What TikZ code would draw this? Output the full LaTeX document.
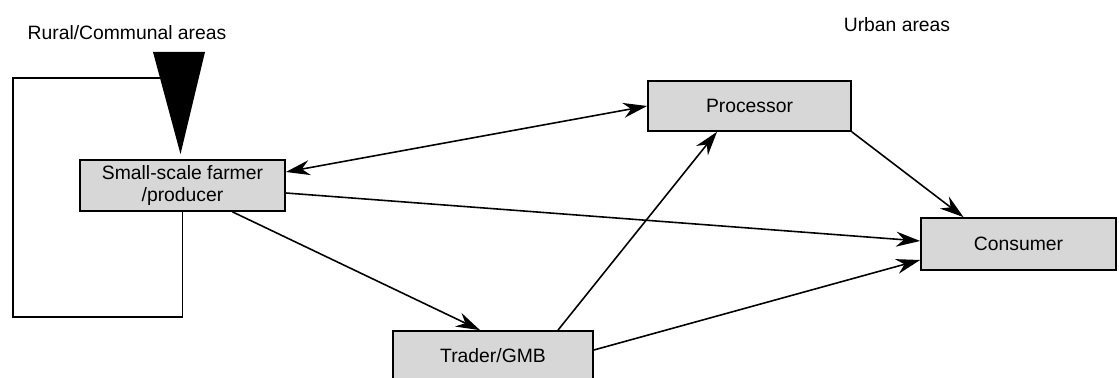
\documentclass[tikz,border=0pt]{standalone}
\usepackage{fontspec}
\setmainfont{Liberation Sans}
\usetikzlibrary{arrows.meta,positioning,calc}
\definecolor{boxgrey}{RGB}{215,215,215}

\begin{document}
\begin{tikzpicture}[x=0.02cm, y=-0.02cm,
  box/.style={draw, line width=1pt, fill=boxgrey, font=\fontsize{11}{12}\selectfont, align=center, inner sep=1pt},
  flow/.style={line width=0.9pt, -{Stealth[length=4.8mm,width=3mm]}},
  label/.style={font=\fontsize{11}{12}\selectfont}]

% Frame
\useasboundingbox (0,0) rectangle (1119,378);

% Area titles
\node[label] (rural) at (127, 33) {Rural/Communal areas};
\node[label] (urban) at (897, 25) {Urban areas};

% Actors
\node[box, minimum width=4.1cm, minimum height=1.02cm] (farmer) at (182.5, 185.5) {Small-scale farmer\\/producer};
\node[box, minimum width=4.06cm, minimum height=1.0cm] (processor) at (749.5, 106) {Processor};
\node[box, minimum width=3.9cm, minimum height=1.04cm] (consumer) at (1018.5, 244) {Consumer};
\node[box, minimum width=4.0cm, minimum height=1.0cm] (trader) at (493, 356) {Trader/GMB};

% Own consumption loop
\coordinate (loopend) at (165, 78);
\draw[line width=1pt] (farmer.south) -- ++(0,105) -| (13,78) -- (loopend);
\fill (153,52) -- (205,52) -- ($(farmer.north)+(-2,-5)$) -- cycle;

% Flows
\draw[flow, {Stealth[length=4.8mm,width=3mm]}-{Stealth[length=4.8mm,width=3mm]}] ([yshift=0.27cm]farmer.east) -- (processor.west);
\draw[flow] ([yshift=-0.15cm]farmer.east) -- ([yshift=0.06cm]consumer.west);
\draw[flow] ([xshift=1cm]farmer.south) -- ([xshift=-0.26cm]trader.north);
\draw[flow] ([xshift=1.3cm]trader.north) -- ([xshift=-0.65cm]processor.south);
\draw[flow] ([yshift=0.12cm]trader.east) -- ([yshift=-0.32cm]consumer.west);
\draw[flow] (processor.south east) -- ([xshift=-1.1cm]consumer.north);

\end{tikzpicture}
\end{document}
